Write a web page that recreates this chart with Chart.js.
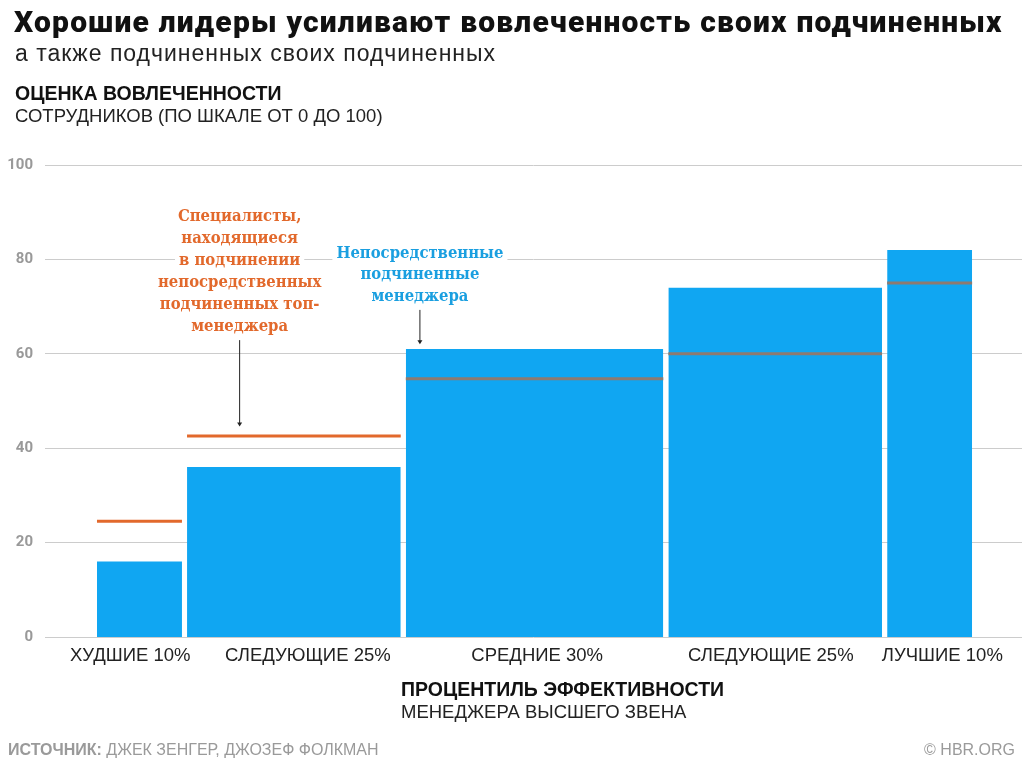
<!DOCTYPE html>
<html>
<head>
<meta charset="utf-8">
<script src="https://cdn.jsdelivr.net/npm/chart.js@4.4.0/dist/chart.umd.min.js"></script>
<style>
  html, body { margin: 0; padding: 0; background: #fff; }
  body { width: 1024px; height: 768px; position: relative; overflow: hidden; font-family: "Liberation Sans", Arial, sans-serif; color: #111; }
  #wrap { position: absolute; left: 0; top: 0; width: 1024px; height: 768px; }
  .t { position: absolute; white-space: nowrap; }
  #title { left: 14px; top: 4px; font-family: Roboto, sans-serif; font-size: 30px; font-weight: 900; letter-spacing: 1.2px; }
  #sub { left: 15px; top: 40px; font-size: 23px; letter-spacing: 1px; color: #222; }
  #yt1 { left: 15px; top: 82px; font-size: 19.5px; font-weight: 700; }
  #yt2 { left: 15px; top: 105px; font-size: 18.5px; color: #222; }
  #xt1 { left: 401px; top: 678px; font-size: 19.5px; font-weight: 700; }
  #xt2 { left: 401px; top: 701px; font-size: 18.5px; color: #222; }
  #src { left: 8px; top: 741px; font-size: 16px; color: #9a9a9a; }
  #src b { font-weight: 700; }
  #hbr { right: 9px; top: 741px; font-size: 16px; color: #9a9a9a; }
</style>
</head>
<body>
<div id="wrap"><canvas id="chart" width="1024" height="768"></canvas></div>
<div class="t" id="title">Хорошие лидеры усиливают вовлеченность своих подчиненных</div>
<div class="t" id="sub">а также подчиненных своих подчиненных</div>
<div class="t" id="yt1">ОЦЕНКА ВОВЛЕЧЕННОСТИ</div>
<div class="t" id="yt2">СОТРУДНИКОВ (ПО ШКАЛЕ ОТ 0 ДО 100)</div>
<div class="t" id="xt1">ПРОЦЕНТИЛЬ ЭФФЕКТИВНОСТИ</div>
<div class="t" id="xt2">МЕНЕДЖЕРА ВЫСШЕГО ЗВЕНА</div>
<div class="t" id="src"><b>ИСТОЧНИК:</b> ДЖЕК ЗЕНГЕР, ДЖОЗЕФ ФОЛКМАН</div>
<div class="t" id="hbr">© HBR.ORG</div>

<script>
// ─── DATA ─────────────────────────────────────────────────────────────────────

const groups       = ['ХУДШИЕ 10%', 'СЛЕДУЮЩИЕ 25%', 'СРЕДНИЕ 30%', 'СЛЕДУЮЩИЕ 25%', 'ЛУЧШИЕ 10%'];
const groupWidths  = [10, 25, 30, 25, 10];          // percentile share of each group
const directScores = [16, 36, 61, 74, 82];          // непосредственные подчиненные (bars)
const skipScores   = [24.5, 42.6, 54.7, 60, 75];    // подчиненные подчиненных (orange lines)
const labelPos     = [3.8, 24.1, 50.3, 77, 96.6];   // where the group labels sit on the x axis
const yTicks       = [0, 20, 40, 60, 80, 100];

const orangeNote = ['Специалисты,', 'находящиеся', 'в подчинении', 'непосредственных', 'подчиненных топ-', 'менеджера'];
const blueNote   = ['Непосредственные', 'подчиненные', 'менеджера'];

const BLUE   = '#10A6F2';
const ORANGE = '#E2692C';
const DIM    = '#8E7A70';   // orange line seen over the blue bar

// ─── BUILD DATASETS ───────────────────────────────────────────────────────────

const GAP = 0.29;
const edges = [0];
groupWidths.forEach(w => edges.push(edges[edges.length - 1] + w));

const datasets = [];
groups.forEach((g, i) => {
  const x0 = edges[i] + (i > 0 ? GAP : 0);
  const x1 = edges[i + 1] - (i < groups.length - 1 ? GAP : 0);
  datasets.push({
    label: 'skip' + i,
    data: [{ x: x0, y: skipScores[i] }, { x: x1, y: skipScores[i] }],
    borderColor: skipScores[i] > directScores[i] ? ORANGE : DIM,
    borderWidth: 3,
    pointRadius: 0,
    fill: false,
    order: 0,
  });
  datasets.push({
    label: 'bar' + i,
    data: [{ x: x0, y: directScores[i] }, { x: x1, y: directScores[i] }],
    borderWidth: 0,
    borderColor: BLUE,
    backgroundColor: BLUE,
    pointRadius: 0,
    fill: 'origin',
    order: 1,
  });
});

// ─── ANNOTATIONS ──────────────────────────────────────────────────────────────

function drawNote(ctx, xs, ys, lines, color, x, yTop, lineH) {
  ctx.save();
  ctx.font = 'bold 16.5px "DejaVu Serif Condensed", "DejaVu Serif", serif';
  ctx.textAlign = 'center';
  ctx.textBaseline = 'middle';
  const cx = xs.getPixelForValue(x);
  const top = ys.getPixelForValue(yTop);
  lines.forEach((ln, k) => {
    const y = top + k * lineH;
    const w = ctx.measureText(ln).width;
    ctx.fillStyle = '#fff';
    ctx.fillRect(cx - w / 2 - 4, y - lineH / 2, w + 8, lineH);
    ctx.fillStyle = color;
    ctx.fillText(ln, cx, y);
  });
  ctx.restore();
}

function drawArrow(ctx, xs, ys, x, yFrom, yTo) {
  const px = xs.getPixelForValue(x);
  const a = ys.getPixelForValue(yFrom);
  const b = ys.getPixelForValue(yTo);
  ctx.save();
  ctx.strokeStyle = '#222';
  ctx.fillStyle = '#222';
  ctx.lineWidth = 1;
  ctx.beginPath();
  ctx.moveTo(px, a);
  ctx.lineTo(px, b - 3);
  ctx.stroke();
  ctx.beginPath();
  ctx.moveTo(px - 2.5, b - 4);
  ctx.lineTo(px + 2.5, b - 4);
  ctx.lineTo(px, b);
  ctx.closePath();
  ctx.fill();
  ctx.restore();
}

const notesPlugin = {
  id: 'notes',
  afterDatasetsDraw(chart) {
    const { ctx, scales: { x, y } } = chart;
    drawNote(ctx, x, y, orangeNote, ORANGE, 16.3, 89.05, 22);
    drawArrow(ctx, x, y, 16.3, 62.9, 44.6);
    drawNote(ctx, x, y, blueNote, '#1A9FE0', 36.9, 81.3, 21.7);
    drawArrow(ctx, x, y, 36.9, 69.3, 62);
  }
};

// ─── CHART ────────────────────────────────────────────────────────────────────

new Chart(document.getElementById('chart'), {
  type: 'line',
  data: { datasets },
  plugins: [notesPlugin],
  options: {
    responsive: false,
    animation: false,
    events: [],
    layout: { padding: { left: 7, right: 2, top: 165, bottom: 101 } },
    elements: { line: { tension: 0 } },
    plugins: { legend: { display: false }, tooltip: { enabled: false } },
    scales: {
      x: {
        type: 'linear',
        min: -5.94,
        max: 105.7,
        afterFit: s => { s.height = 30; },
        afterBuildTicks: s => { s.ticks = labelPos.map(v => ({ value: v })); },
        grid: { display: false },
        border: { display: false },
        ticks: {
          autoSkip: false,
          maxRotation: 0,
          padding: 0,
          color: '#222',
          font: { family: '"Liberation Sans", Arial, sans-serif', size: 18.5 },
          callback: (v, i) => groups[i],
        },
      },
      y: {
        min: 0,
        max: 100,
        afterFit: s => { s.width = 38; },
        afterBuildTicks: s => { s.ticks = yTicks.map(v => ({ value: v })); },
        grid: { color: '#cccccc', lineWidth: 1, drawTicks: false },
        border: { display: false },
        ticks: {
          padding: 12,
          color: '#999999',
          font: { family: 'Roboto', size: 15, weight: 'bold' },
        },
      },
    },
  },
});
</script>
</body>
</html>
